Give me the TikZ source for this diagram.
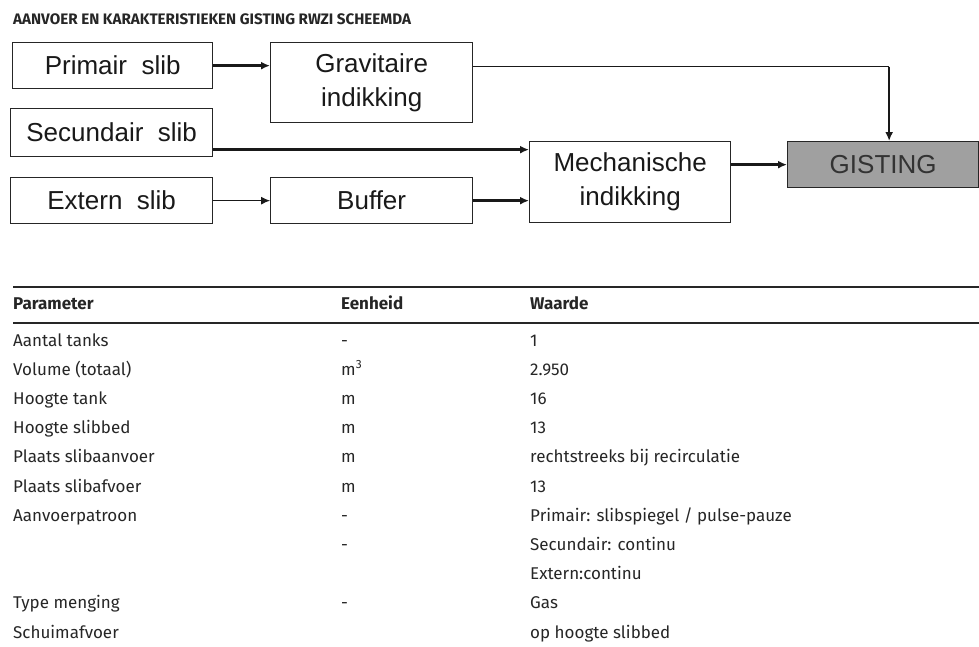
\documentclass[tikz,border=0pt]{standalone}
\usepackage{fontspec}
\setmainfont{Fira Sans}
\newfontfamily\boxfont{Liberation Sans}
\usetikzlibrary{arrows.meta}
\definecolor{gistgray}{RGB}{160,160,160}

\begin{document}
\begin{tikzpicture}[
    x=1pt, y=-1pt,
    box/.style={draw=black!85, line width=1.3pt, fill=white, anchor=north west, inner sep=0pt, align=center, text=black!90, font=\boxfont\fontsize{26}{34}\selectfont},
    thinline/.style={line width=1pt, draw=black!90},
    thinarrow/.style={thinline, -{Latex[length=9pt,width=8pt]}},
    thickarrow/.style={line width=2.4pt, draw=black!90, -{Latex[length=9pt,width=8pt]}},
    rule/.style={line width=2pt, draw=black!85},
    cell/.style={anchor=base west, inner sep=0pt, text=black!85, font=\fontsize{17}{19}\selectfont}
]
\useasboundingbox (0,0) rectangle (979,646);

% title
\node[anchor=base west, inner sep=0pt, text=black!85, font=\bfseries\fontsize{15.2}{17}\selectfont] (title) at (13,24) {AANVOER EN KARAKTERISTIEKEN GISTING RWZI SCHEEMDA};

% flow scheme
\node[box, minimum width=200, minimum height=46] (primair) at (12,42) {Primair~~slib};
\node[box, minimum width=202, minimum height=48] (secundair) at (10,108) {Secundair~~slib};
\node[box, minimum width=202, minimum height=46] (extern) at (10,177) {Extern~~slib};
\node[box, minimum width=202, minimum height=80] (grav) at (270,42) {Gravitaire\\indikking};
\node[box, minimum width=202, minimum height=46] (buffer) at (270,177) {Buffer};
\node[box, minimum width=201, minimum height=81] (mech) at (529,141) {Mechanische\\indikking};
\node[box, fill=gistgray, text=black!80, minimum width=191, minimum height=46] (gisting) at (787,141) {GISTING};

\path ([yshift=16pt]grav.east) coordinate (gravout);
\path ([xshift=6pt]gisting.north) coordinate (gisttop);
\path ([yshift=-17pt]secundair.east) coordinate (secout);
\coordinate (bend) at (gravout -| gisttop);

\draw[thickarrow] (primair.east) -- (primair.east -| grav.west);
\draw[thinline] (gravout) -- (bend);
\draw[thickarrow] (bend) -- (gisttop);
\draw[thickarrow] (secout) -- (secout -| mech.west);
\draw[thinarrow] (extern.east) -- (extern.east -| buffer.west);
\draw[thickarrow] (buffer.east) -- (buffer.east -| mech.west);
\draw[thickarrow] (gisting.west -| mech.east) -- (gisting.west);

% table
\coordinate (ruletop) at (13,287);
\coordinate (rulemid) at (13,323);
\draw[rule] (ruletop) -- (ruletop -| 979,0);
\draw[rule] (rulemid) -- (rulemid -| 979,0);
\node[cell, font=\bfseries\fontsize{17}{19}\selectfont] (hpar) at (13,309) {Parameter};
\node[cell, font=\bfseries\fontsize{17}{19}\selectfont] (heen) at (341,309) {Eenheid};
\node[cell, font=\bfseries\fontsize{17}{19}\selectfont] (hwaa) at (530,309) {Waarde};

\foreach \p/\e/\w [count=\i from 0] in {
    Aantal tanks/-/1,
    Volume (totaal)/m\textsuperscript{3}/2.950,
    Hoogte tank/m/16,
    Hoogte slibbed/m/13,
    Plaats slibaanvoer/m/rechtstreeks bij recirculatie,
    Plaats slibafvoer/m/13,
    Aanvoerpatroon/-/{Primair: slibspiegel / pulse-pauze},
    /-/Secundair: continu,
    //Extern:continu,
    Type menging/-/Gas,
    Schuimafvoer//op hoogte slibbed}
{
    \node[cell] (par\i) at (13,346+29.2*\i) {\p};
    \node[cell] (een\i) at (341,346+29.2*\i) {\e};
    \node[cell] (waa\i) at (530,346+29.2*\i) {\w};
}
\end{tikzpicture}
\end{document}
